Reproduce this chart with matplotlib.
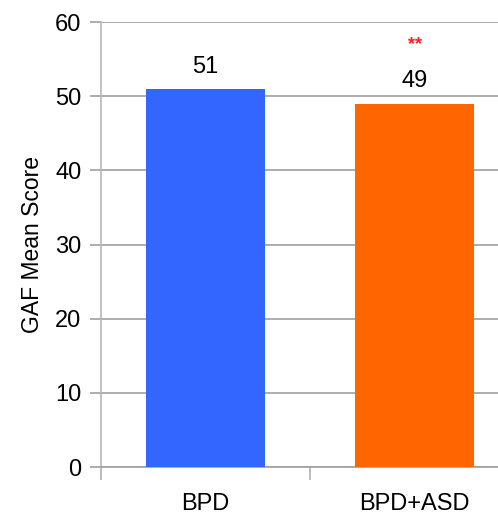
import matplotlib
matplotlib.use("Agg")
import matplotlib.pyplot as plt

categories = ["BPD", "BPD+ASD"]
values = [51, 49]
colors = ["#3366ff", "#ff6600"]
yticks = [0, 10, 20, 30, 40, 50, 60]

plt.rcParams["font.family"] = ["Liberation Sans", "DejaVu Sans"]

W, H = 498, 517
fig = plt.figure(figsize=(W / 100, H / 100), dpi=100)
ax = fig.add_axes([101 / W, (H - 467) / H, 418 / W, 445 / H])

x = list(range(len(categories)))
ax.bar(x, values, width=0.57, color=colors, zorder=3)

ax.set_xlim(-0.5, len(categories) - 0.5)
ax.set_ylim(0, 60)
ax.set_yticks(yticks)
ax.set_yticklabels([str(t) for t in yticks], fontsize=17)
ax.yaxis.grid(True, color="#a0a0a0", linewidth=1.2, zorder=0)
ax.tick_params(axis="y", length=8, width=1.2, color="#a0a0a0", pad=6)

# category boundaries carry the x tick marks; labels sit at the centres
ax.set_xticks([-0.5, 0.5])
ax.set_xticklabels([])
ax.set_xticks(x, minor=True)
ax.set_xticklabels(categories, minor=True, fontsize=17)
ax.tick_params(axis="x", which="major", length=9, width=1.2, color="#b0b0b0")
ax.tick_params(axis="x", which="minor", length=0, pad=18.5)

for s in ["top", "right"]:
    ax.spines[s].set_visible(False)
ax.spines["left"].set_color("#b8b8b8")
ax.spines["left"].set_linewidth(1.2)
ax.spines["bottom"].set_color("#a0a0a0")
ax.spines["bottom"].set_linewidth(1.2)

ax.set_ylabel("GAF Mean Score", fontsize=16.5, labelpad=8)

for xi, v in zip(x, values):
    ax.annotate(str(v), (xi, v), xytext=(0, 8), textcoords="offset points",
                ha="center", va="bottom", fontsize=17)

ax.annotate("**", (1, values[1]), xytext=(0, 36), textcoords="offset points",
            ha="center", va="bottom", fontsize=13, color="#ff2020",
            fontweight="bold")

fig.savefig("out.png", dpi=100)
